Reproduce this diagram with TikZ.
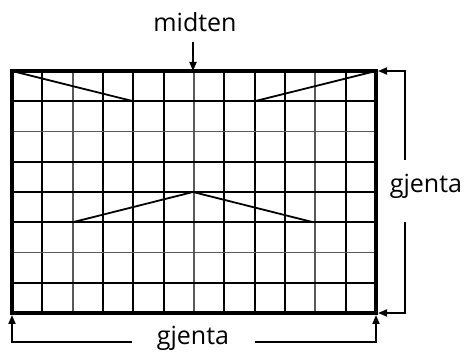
\documentclass[tikz,border=0pt]{standalone}
\usepackage{fontspec}
\setmainfont{Open Sans}
\usetikzlibrary{arrows.meta}

\tikzset{
  label/.style={inner sep=0pt, font=\fontsize{25}{28}\selectfont},
  cell/.style={line width=2pt},
  lightcell/.style={line width=1.8pt, black!65},
  border/.style={line width=3.4pt, line cap=rect},
  slope/.style={line width=1.8pt},
  pointer/.style={line width=1.8pt, -{Triangle[length=9pt,width=7pt]}}
}

\begin{document}
\begin{tikzpicture}[x=1pt,y=-1pt]
\useasboundingbox (0,0) rectangle (466,352);

% grid lines
\foreach \i in {1,3,4,5,7,8,9,11}
  \draw[cell] (12+30.33*\i,71) -- (12+30.33*\i,313);
\foreach \i in {2,6,10}
  \draw[lightcell] (12+30.33*\i,71) -- (12+30.33*\i,313);
\foreach \j in {1,3,4,5,7}
  \draw[cell] (12,71+30.25*\j) -- (376,71+30.25*\j);
\foreach \j in {2,6}
  \draw[lightcell] (12,71+30.25*\j) -- (376,71+30.25*\j);

% corners
\coordinate (TL) at (12,71);
\coordinate (TR) at (376,71);
\coordinate (BL) at (12,313);
\coordinate (BR) at (376,313);
\coordinate (TM) at (193,71);

% slanted lines
\draw[slope] (TL) -- (133.3,101.25);
\draw[slope] (TR) -- (254.6,101.25);
\draw[slope] (72.7,222.25) -- (193,192) -- (313.3,222.25);

\draw[border] (TL) rectangle (BR);

\node[label] (midten) at (195,22) {midten};
\node[label] (gjentaH) at (426,186) {gjenta};
\node[label] (gjentaB) at (193,338) {gjenta};

% pointers
\draw[pointer] (193,42) -- (TM);

\coordinate (Rtop) at (405,160);
\coordinate (Rbot) at (405,222);
\draw[pointer] (Rtop) |- (378,71);
\draw[pointer] (Rbot) |- (378,313);

\coordinate (Bleft) at (132,342);
\coordinate (Bright) at (255,342);
\draw[pointer] (Bleft) -| (12,315);
\draw[pointer] (Bright) -| (376,315);
\end{tikzpicture}
\end{document}
